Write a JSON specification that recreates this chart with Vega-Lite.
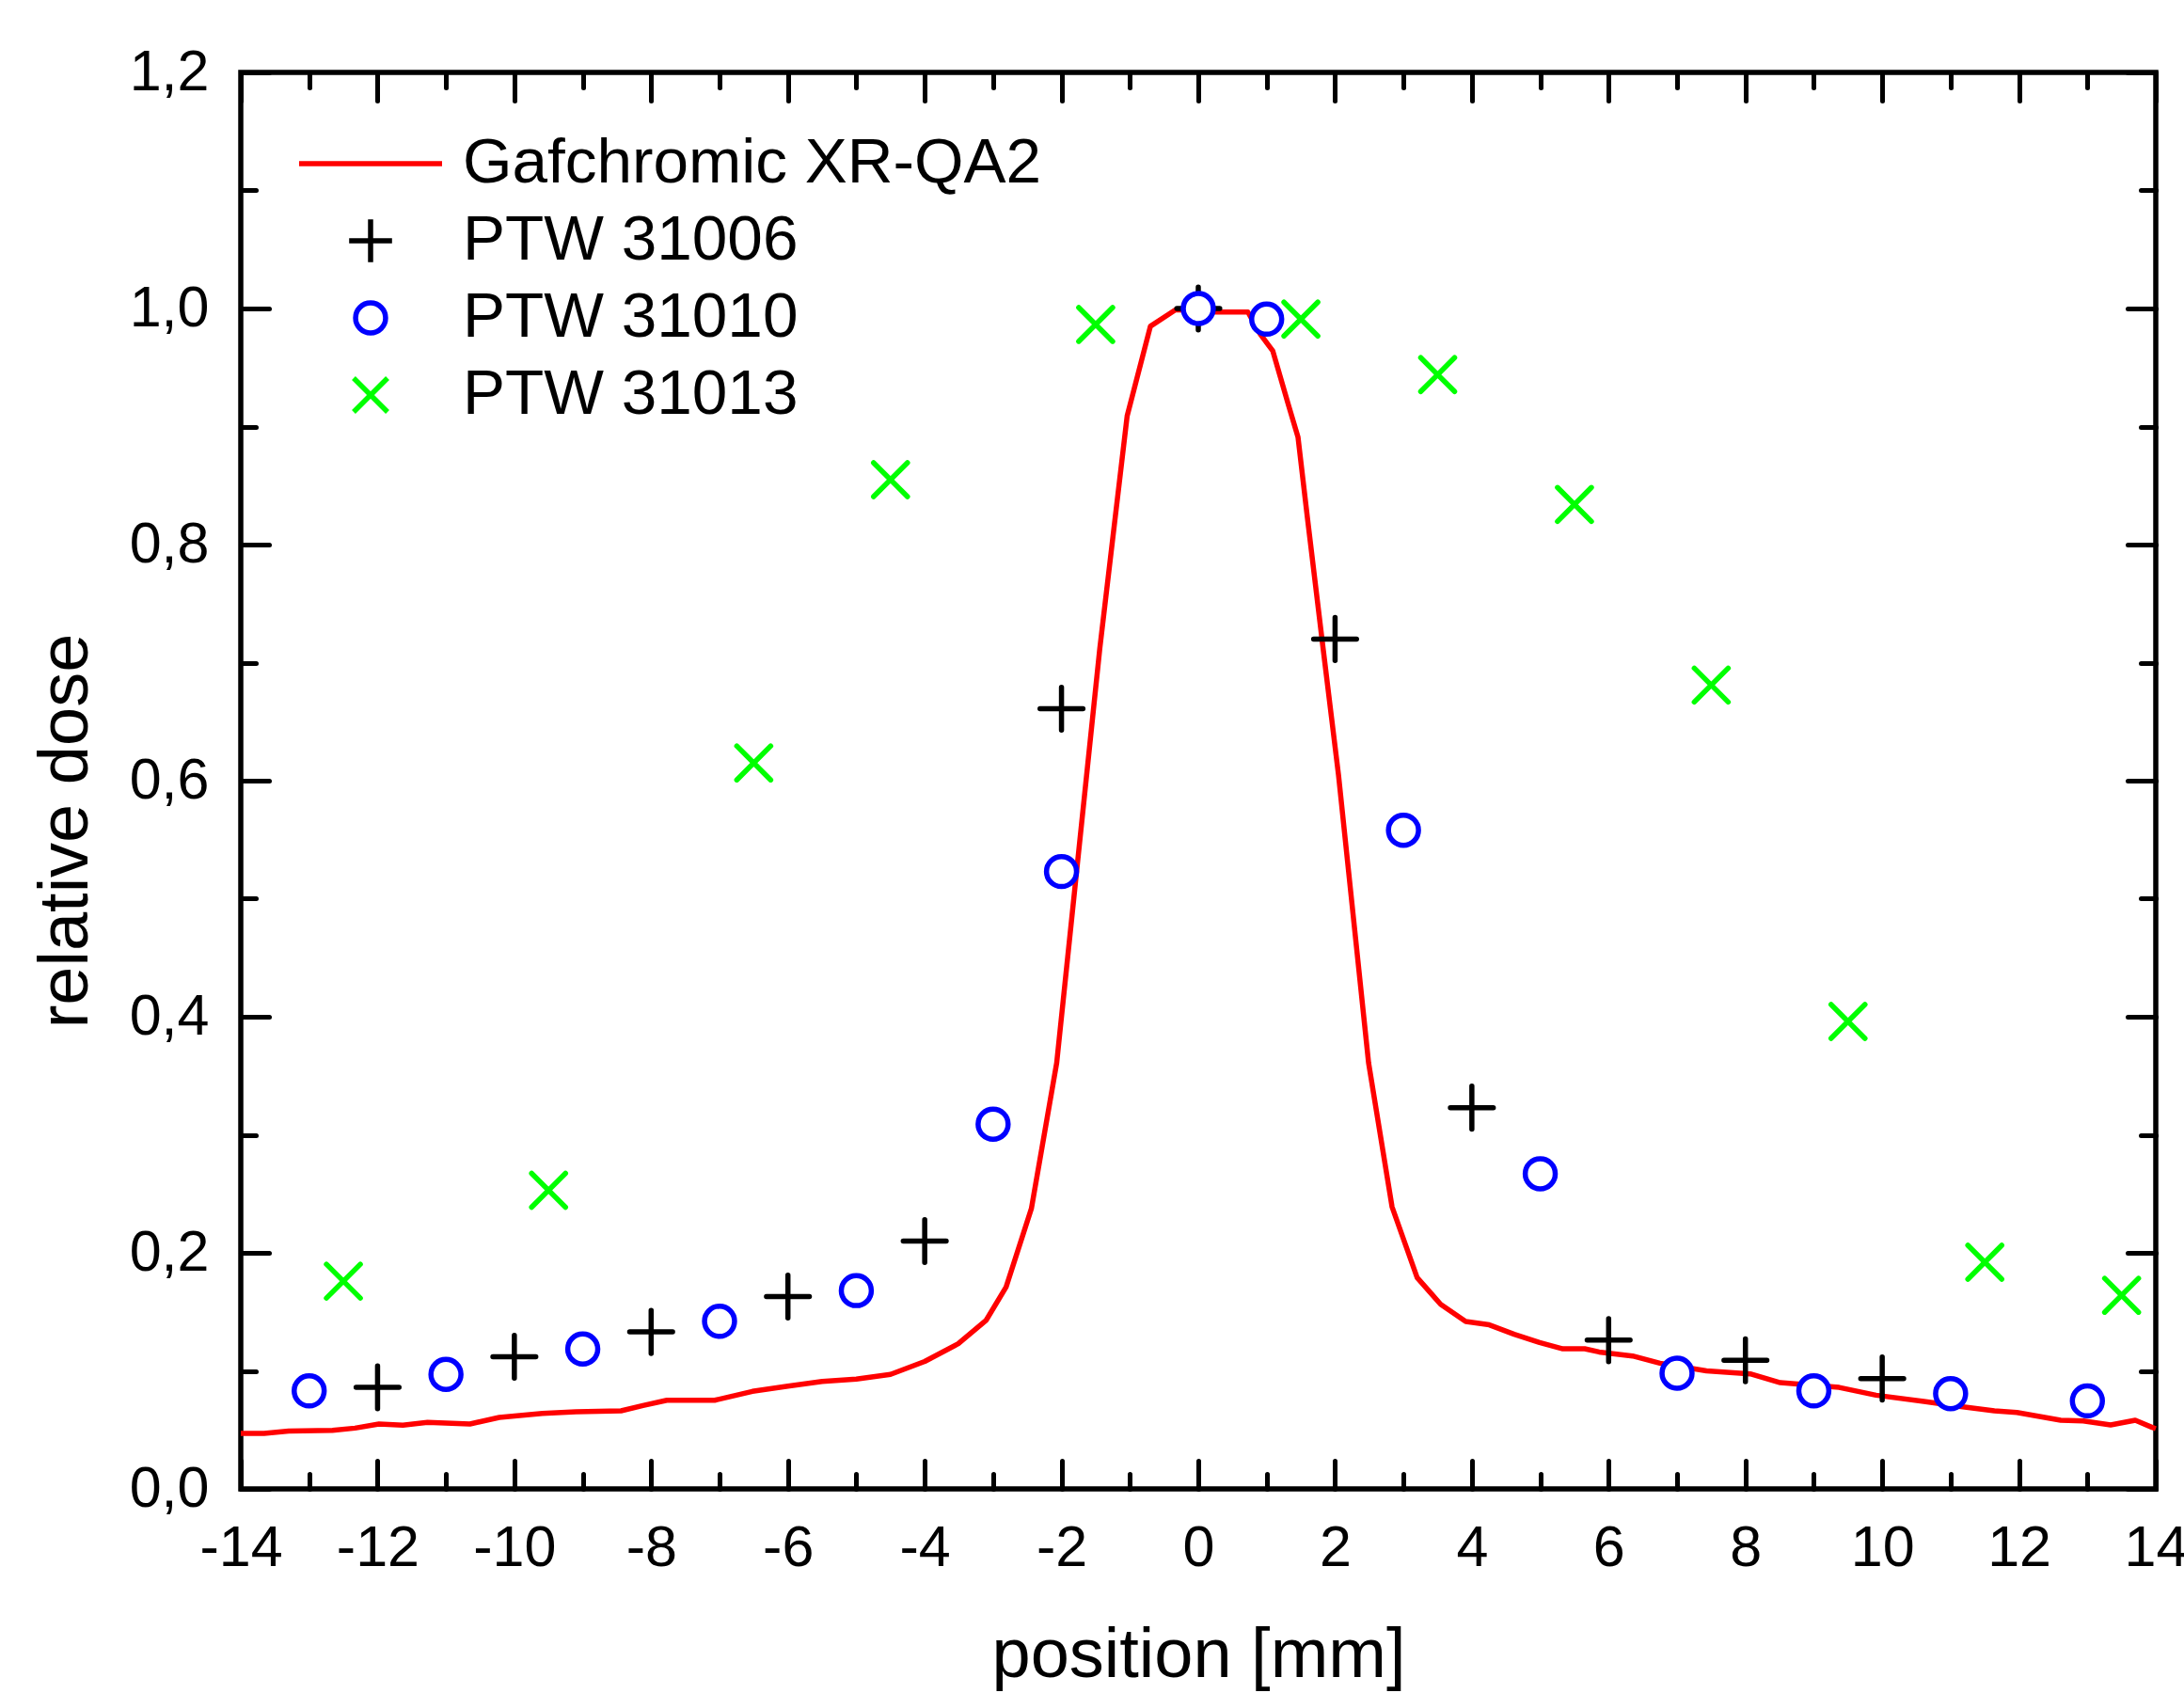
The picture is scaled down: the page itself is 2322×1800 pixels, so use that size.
{
  "$schema": "https://vega.github.io/schema/vega-lite/v6.json",
  "width": 2036,
  "height": 1506,
  "autosize": {"type": "none"},
  "padding": {"left": 256, "top": 77, "right": 30, "bottom": 217},
  "background": "white",
  "config": {
    "view": {"stroke": "black", "strokeWidth": 5.5},
    "font": "Liberation Sans",
    "axis": {"domain": false, "grid": false, "tickColor": "black", "tickWidth": 5, "tickCap": "round", "labelColor": "black", "titleColor": "black", "labelFont": "Liberation Sans", "titleFont": "Liberation Sans"}
  },
  "datasets": {
    "film": [
      {"x": -14.0, "y": 0.047}, {"x": -13.66, "y": 0.047}, {"x": -13.3, "y": 0.049}, {"x": -12.66, "y": 0.0496},
      {"x": -12.33, "y": 0.0515}, {"x": -11.98, "y": 0.055}, {"x": -11.63, "y": 0.054}, {"x": -11.27, "y": 0.0563},
      {"x": -10.65, "y": 0.055}, {"x": -10.22, "y": 0.0606}, {"x": -9.59, "y": 0.064}, {"x": -9.1, "y": 0.0653},
      {"x": -8.44, "y": 0.0661}, {"x": -8.12, "y": 0.0706}, {"x": -7.77, "y": 0.0751}, {"x": -7.07, "y": 0.0751},
      {"x": -6.52, "y": 0.0826}, {"x": -6.0, "y": 0.087}, {"x": -5.5, "y": 0.091}, {"x": -5.0, "y": 0.093},
      {"x": -4.5, "y": 0.097}, {"x": -4.0, "y": 0.108}, {"x": -3.51, "y": 0.123}, {"x": -3.1, "y": 0.143},
      {"x": -2.81, "y": 0.171}, {"x": -2.44, "y": 0.2375}, {"x": -2.07, "y": 0.361}, {"x": -1.44, "y": 0.712},
      {"x": -1.04, "y": 0.909}, {"x": -0.7, "y": 0.985}, {"x": -0.33, "y": 0.999}, {"x": 0.27, "y": 0.997},
      {"x": 0.725, "y": 0.997}, {"x": 0.91, "y": 0.978}, {"x": 1.09, "y": 0.964}, {"x": 1.32, "y": 0.918},
      {"x": 1.458, "y": 0.891}, {"x": 1.595, "y": 0.823}, {"x": 1.825, "y": 0.712}, {"x": 2.05, "y": 0.605},
      {"x": 2.49, "y": 0.361}, {"x": 2.833, "y": 0.239}, {"x": 3.2, "y": 0.179}, {"x": 3.544, "y": 0.1564},
      {"x": 3.91, "y": 0.1418}, {"x": 4.255, "y": 0.139}, {"x": 4.62, "y": 0.131}, {"x": 4.99, "y": 0.124},
      {"x": 5.33, "y": 0.1187}, {"x": 5.65, "y": 0.1187}, {"x": 5.86, "y": 0.116}, {"x": 6.35, "y": 0.1126},
      {"x": 6.75, "y": 0.1065}, {"x": 7.43, "y": 0.1}, {"x": 8.07, "y": 0.0975}, {"x": 8.51, "y": 0.09},
      {"x": 9.37, "y": 0.086}, {"x": 9.91, "y": 0.0794}, {"x": 10.61, "y": 0.0741}, {"x": 11.1, "y": 0.0701},
      {"x": 11.64, "y": 0.0661}, {"x": 11.97, "y": 0.0648}, {"x": 12.61, "y": 0.0582}, {"x": 12.94, "y": 0.0576},
      {"x": 13.34, "y": 0.0542}, {"x": 13.7, "y": 0.0582}, {"x": 13.94, "y": 0.0523}, {"x": 14.0, "y": 0.051}
    ],
    "pts": [
      {"series": "PTW 31006", "x": -12, "y": 0.086}, {"series": "PTW 31006", "x": -10, "y": 0.112},
      {"series": "PTW 31006", "x": -8, "y": 0.133}, {"series": "PTW 31006", "x": -6, "y": 0.163},
      {"series": "PTW 31006", "x": -4, "y": 0.21}, {"series": "PTW 31006", "x": -2, "y": 0.661},
      {"series": "PTW 31006", "x": 0, "y": 1.0}, {"series": "PTW 31006", "x": 2, "y": 0.72},
      {"series": "PTW 31006", "x": 4, "y": 0.323}, {"series": "PTW 31006", "x": 6, "y": 0.126},
      {"series": "PTW 31006", "x": 8, "y": 0.109}, {"series": "PTW 31006", "x": 10, "y": 0.0935},
      {"series": "PTW 31010", "x": -13, "y": 0.083}, {"series": "PTW 31010", "x": -11, "y": 0.097},
      {"series": "PTW 31010", "x": -9, "y": 0.1185}, {"series": "PTW 31010", "x": -7, "y": 0.142},
      {"series": "PTW 31010", "x": -5, "y": 0.168}, {"series": "PTW 31010", "x": -3, "y": 0.309},
      {"series": "PTW 31010", "x": -2, "y": 0.523}, {"series": "PTW 31010", "x": 0, "y": 1.0},
      {"series": "PTW 31010", "x": 1, "y": 0.991}, {"series": "PTW 31010", "x": 3, "y": 0.558},
      {"series": "PTW 31010", "x": 5, "y": 0.267}, {"series": "PTW 31010", "x": 7, "y": 0.098},
      {"series": "PTW 31010", "x": 9, "y": 0.083}, {"series": "PTW 31010", "x": 11, "y": 0.0807},
      {"series": "PTW 31010", "x": 13, "y": 0.0746},
      {"series": "PTW 31013", "x": -12.5, "y": 0.176}, {"series": "PTW 31013", "x": -9.5, "y": 0.253},
      {"series": "PTW 31013", "x": -6.5, "y": 0.615}, {"series": "PTW 31013", "x": -4.5, "y": 0.855},
      {"series": "PTW 31013", "x": -1.5, "y": 0.9865}, {"series": "PTW 31013", "x": 1.5, "y": 0.991},
      {"series": "PTW 31013", "x": 3.5, "y": 0.944}, {"series": "PTW 31013", "x": 5.5, "y": 0.834},
      {"series": "PTW 31013", "x": 7.5, "y": 0.681}, {"series": "PTW 31013", "x": 9.5, "y": 0.396},
      {"series": "PTW 31013", "x": 11.5, "y": 0.192}, {"series": "PTW 31013", "x": 13.5, "y": 0.164}
    ]
  },
  "layer": [
    {
      "data": {"name": "film"},
      "mark": {"type": "line", "color": "#ff0000", "strokeWidth": 5.5, "strokeJoin": "round"},
      "encoding": {
        "x": {"field": "x", "type": "quantitative", "scale": {"domain": [-14, 14], "nice": false, "zero": false},
          "axis": {"orient": "bottom", "values": [-14, -12, -10, -8, -6, -4, -2, 0, 2, 4, 6, 8, 10, 12, 14], "tickSize": -30,
            "labelPadding": 63, "labelFontSize": 61, "labelFlush": false, "labelOverlap": false, "labelExpr": "'' + datum.value",
            "title": "position [mm]", "titleFontSize": 74, "titleFontWeight": "normal", "titleBaseline": "alphabetic", "titleY": 199, "titleX": 1018}},
        "y": {"field": "y", "type": "quantitative", "scale": {"domain": [0, 1.2], "nice": false, "zero": false},
          "axis": {"orient": "left", "values": [0, 0.2, 0.4, 0.6, 0.8, 1.0, 1.2], "tickSize": -30,
            "labelPadding": 64, "labelFontSize": 61, "labelOverlap": false, "labelExpr": "replace(format(datum.value, '.1f'), '.', ',')",
            "title": "relative dose", "titleFontSize": 74, "titleFontWeight": "normal", "titleAngle": -90, "titleBaseline": "alphabetic",
            "titleAlign": "center", "titleX": -164, "titleY": 806}}
      }
    },
    {
      "data": {"name": "pts"},
      "transform": [{"filter": "datum.series === 'PTW 31006'"}],
      "mark": {"type": "point", "filled": false, "strokeWidth": 5.5, "strokeCap": "round", "size": 23104, "opacity": 1},
      "encoding": {
        "x": {"field": "x", "type": "quantitative",
          "axis": {"orient": "bottom", "values": [-13, -11, -9, -7, -5, -3, -1, 1, 3, 5, 7, 9, 11, 13], "tickSize": -16, "labels": false, "title": null}},
        "y": {"field": "y", "type": "quantitative",
          "axis": {"orient": "left", "values": [0.1, 0.3, 0.5, 0.7, 0.9, 1.1], "tickSize": -16, "labels": false, "title": null}},
        "color": {"field": "series", "type": "nominal",
          "scale": {"domain": ["Gafchromic XR-QA2", "PTW 31006", "PTW 31010", "PTW 31013"], "range": ["#ff0000", "#000000", "#0000ff", "#00ff00"]},
          "legend": {"orient": "none", "legendX": 59, "legendY": 62, "title": null, "padding": 0, "labelFont": "Liberation Sans", "labelFontSize": 67.5,
            "labelColor": "black", "labelLimit": 1000, "symbolSize": 23104, "symbolStrokeWidth": 5.5, "symbolOffset": 0, "labelOffset": 19,
            "clipHeight": 70, "rowPadding": 12,
            "encode": {"symbols": {"update": {"strokeCap": {"value": "round"}}}}}},
        "shape": {"field": "series", "type": "nominal",
          "scale": {"domain": ["Gafchromic XR-QA2", "PTW 31006", "PTW 31010", "PTW 31013"],
            "range": ["M-1,0H1", "M-0.3,0H0.3M0,-0.3V0.3", "M-0.21,0A0.21,0.21 0 1,1 0.21,0A0.21,0.21 0 1,1 -0.21,0Z", "M-0.237,-0.237L0.237,0.237M-0.237,0.237L0.237,-0.237"]}}
      }
    },
    {
      "data": {"name": "pts"},
      "transform": [{"filter": "datum.series === 'PTW 31010'"}],
      "mark": {"type": "point", "filled": false, "fill": "white", "strokeWidth": 5.5, "strokeCap": "round", "size": 23104, "opacity": 1},
      "encoding": {
        "x": {"field": "x", "type": "quantitative",
          "axis": {"orient": "top", "values": [-14, -12, -10, -8, -6, -4, -2, 0, 2, 4, 6, 8, 10, 12, 14], "tickSize": -30, "labels": false, "title": null}},
        "y": {"field": "y", "type": "quantitative",
          "axis": {"orient": "right", "values": [0, 0.2, 0.4, 0.6, 0.8, 1.0, 1.2], "tickSize": -30, "labels": false, "title": null}},
        "color": {"field": "series", "type": "nominal"},
        "shape": {"field": "series", "type": "nominal"}
      }
    },
    {
      "data": {"name": "pts"},
      "transform": [{"filter": "datum.series === 'PTW 31013'"}],
      "mark": {"type": "point", "filled": false, "strokeWidth": 5.5, "strokeCap": "round", "size": 23104, "opacity": 1},
      "encoding": {
        "x": {"field": "x", "type": "quantitative",
          "axis": {"orient": "top", "values": [-13, -11, -9, -7, -5, -3, -1, 1, 3, 5, 7, 9, 11, 13], "tickSize": -16, "labels": false, "title": null}},
        "y": {"field": "y", "type": "quantitative",
          "axis": {"orient": "right", "values": [0.1, 0.3, 0.5, 0.7, 0.9, 1.1], "tickSize": -16, "labels": false, "title": null}},
        "color": {"field": "series", "type": "nominal"},
        "shape": {"field": "series", "type": "nominal"}
      }
    }
  ],
  "resolve": {"axis": {"x": "independent", "y": "independent"}}
}
